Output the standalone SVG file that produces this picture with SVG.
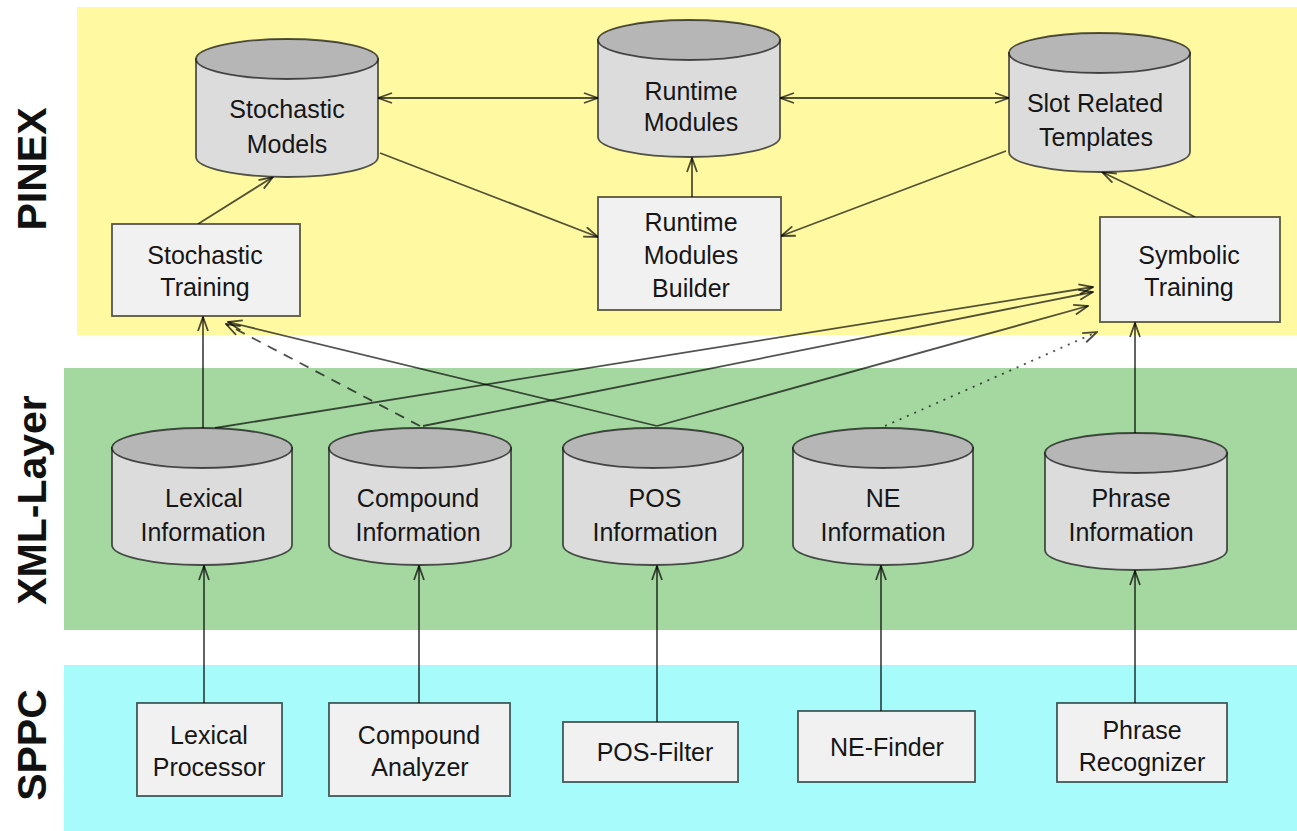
<svg xmlns="http://www.w3.org/2000/svg" width="1297" height="831" viewBox="0 0 1297 831">
  <style>
    .lbl { font-family: "Liberation Sans", Arial, sans-serif; font-size: 25px; fill: #161616; text-anchor: middle; }
    .layer { font-family: "Liberation Sans", Arial, sans-serif; font-size: 41px; font-weight: bold; fill: #111; text-anchor: middle; }
    .box { fill: #f1f1f1; stroke: #000; stroke-opacity: 0.65; stroke-width: 1.8; }
    .body { fill: #dcdcdc; stroke: #000; stroke-opacity: 0.65; stroke-width: 1.8; }
    .lid { fill: #b6b6b6; stroke: #000; stroke-opacity: 0.65; stroke-width: 1.8; }
    .edge { fill: none; stroke: #000; stroke-opacity: 0.68; stroke-width: 1.8; marker-end: url(#arrow); }
    .both { marker-start: url(#arrow); }
    .dash { stroke-dasharray: 10 8; }
    .dot { stroke-dasharray: 2 6; }
  </style>
  <defs>
    <marker id="arrow" viewBox="0 0 16 12" refX="15" refY="6" markerWidth="16" markerHeight="12" markerUnits="userSpaceOnUse" orient="auto-start-reverse">
      <path d="M1,1 L15,6 L1,11" fill="none" stroke="#000" stroke-opacity="0.7" stroke-width="1.8"/>
    </marker>
  </defs>

  <!-- layer bands -->
  <rect width="1297" height="831" fill="#ffffff"/>
  <rect x="77" y="7" width="1220" height="328" fill="#fffaa2"/>
  <rect x="64" y="368" width="1233" height="262" fill="#a4d8a0"/>
  <rect x="64" y="665" width="1233" height="166" fill="#a8fbfb"/>

  <text class="layer" transform="translate(46,169) rotate(-90)">PINEX</text>
  <text class="layer" transform="translate(46,500) rotate(-90)">XML-Layer</text>
  <text class="layer" transform="translate(46,745) rotate(-90)">SPPC</text>

  <!-- connectors -->
  <g id="connectors">
    <!-- PINEX -->
    <line class="edge both" x1="378" y1="98" x2="598" y2="98"/>
    <line class="edge both" x1="780" y1="98" x2="1009" y2="98"/>
    <line class="edge" x1="380" y1="153" x2="598" y2="237"/>
    <line class="edge" x1="1006" y1="151" x2="781" y2="236"/>
    <line class="edge" x1="692" y1="197" x2="692" y2="158"/>
    <line class="edge" x1="198" y1="224" x2="273" y2="177"/>
    <line class="edge" x1="1195" y1="217" x2="1102" y2="172"/>
    <!-- XML-Layer to PINEX -->
    <line class="edge" x1="203" y1="428" x2="203" y2="317"/>
    <line class="edge dash" x1="420" y1="426" x2="226" y2="324"/>
    <line class="edge" x1="657" y1="426" x2="228" y2="322"/>
    <line class="edge" x1="215" y1="428" x2="1093" y2="287"/>
    <line class="edge" x1="423" y1="426" x2="1093" y2="292"/>
    <line class="edge" x1="657" y1="426" x2="1088" y2="306"/>
    <line class="edge dot" x1="885" y1="426" x2="1097" y2="332"/>
    <line class="edge" x1="1135" y1="433" x2="1135" y2="323"/>
    <!-- SPPC to XML-Layer -->
    <line class="edge" x1="204" y1="703" x2="204" y2="566"/>
    <line class="edge" x1="419" y1="703" x2="419" y2="566"/>
    <line class="edge" x1="657" y1="722" x2="657" y2="566"/>
    <line class="edge" x1="881" y1="711" x2="881" y2="566"/>
    <line class="edge" x1="1135" y1="703" x2="1135" y2="571"/>
  </g>

  <!-- PINEX nodes -->
  <g id="stochastic-models">
    <path class="body" d="M196,59 V157 A91,20 0 0 0 378,157 V59 Z"/>
    <ellipse class="lid" cx="287" cy="59" rx="91" ry="20"/>
    <text class="lbl" x="287" y="118">Stochastic</text>
    <text class="lbl" x="287" y="153">Models</text>
  </g>
  <g id="runtime-modules">
    <path class="body" d="M598,40 V137 A91,20 0 0 0 780,137 V40 Z"/>
    <ellipse class="lid" cx="689" cy="40" rx="91" ry="20"/>
    <text class="lbl" x="691" y="100">Runtime</text>
    <text class="lbl" x="691" y="131">Modules</text>
  </g>
  <g id="slot-templates">
    <path class="body" d="M1009,53 V152 A90.5,20 0 0 0 1190,152 V53 Z"/>
    <ellipse class="lid" cx="1099.5" cy="53" rx="90.5" ry="20"/>
    <text class="lbl" x="1095" y="112">Slot Related</text>
    <text class="lbl" x="1096" y="146">Templates</text>
  </g>
  <g id="stochastic-training">
    <rect class="box" x="112" y="224" width="188" height="92"/>
    <text class="lbl" x="205" y="264">Stochastic</text>
    <text class="lbl" x="205" y="296">Training</text>
  </g>
  <g id="runtime-builder">
    <rect class="box" x="598" y="197" width="183" height="113"/>
    <text class="lbl" x="691" y="231">Runtime</text>
    <text class="lbl" x="691" y="264">Modules</text>
    <text class="lbl" x="691" y="297">Builder</text>
  </g>
  <g id="symbolic-training">
    <rect class="box" x="1100" y="217" width="180" height="105"/>
    <text class="lbl" x="1189" y="264">Symbolic</text>
    <text class="lbl" x="1189" y="296">Training</text>
  </g>

  <!-- XML-Layer nodes -->
  <g id="lexical-info">
    <path class="body" d="M112,448 V545 A90,20 0 0 0 292,545 V448 Z"/>
    <ellipse class="lid" cx="202" cy="448" rx="90" ry="20"/>
    <text class="lbl" x="204" y="507">Lexical</text>
    <text class="lbl" x="203" y="541">Information</text>
  </g>
  <g id="compound-info">
    <path class="body" d="M329,448 V545 A91,20 0 0 0 511,545 V448 Z"/>
    <ellipse class="lid" cx="420" cy="448" rx="91" ry="20"/>
    <text class="lbl" x="418" y="507">Compound</text>
    <text class="lbl" x="418" y="541">Information</text>
  </g>
  <g id="pos-info">
    <path class="body" d="M563,448 V545 A90,20 0 0 0 743,545 V448 Z"/>
    <ellipse class="lid" cx="653" cy="448" rx="90" ry="20"/>
    <text class="lbl" x="655" y="507">POS</text>
    <text class="lbl" x="655" y="541">Information</text>
  </g>
  <g id="ne-info">
    <path class="body" d="M793,448 V545 A90,20 0 0 0 973,545 V448 Z"/>
    <ellipse class="lid" cx="883" cy="448" rx="90" ry="20"/>
    <text class="lbl" x="883" y="507">NE</text>
    <text class="lbl" x="883" y="541">Information</text>
  </g>
  <g id="phrase-info">
    <path class="body" d="M1045,453 V550 A91,20 0 0 0 1227,550 V453 Z"/>
    <ellipse class="lid" cx="1136" cy="453" rx="91" ry="20"/>
    <text class="lbl" x="1131" y="507">Phrase</text>
    <text class="lbl" x="1131" y="541">Information</text>
  </g>

  <!-- SPPC nodes -->
  <g id="lexical-processor">
    <rect class="box" x="137" y="703" width="145" height="93"/>
    <text class="lbl" x="209" y="744">Lexical</text>
    <text class="lbl" x="209" y="776">Processor</text>
  </g>
  <g id="compound-analyzer">
    <rect class="box" x="329" y="703" width="181" height="93"/>
    <text class="lbl" x="419" y="744">Compound</text>
    <text class="lbl" x="420" y="776">Analyzer</text>
  </g>
  <g id="pos-filter">
    <rect class="box" x="563" y="722" width="175" height="60"/>
    <text class="lbl" x="655" y="761">POS-Filter</text>
  </g>
  <g id="ne-finder">
    <rect class="box" x="798" y="711" width="177" height="71"/>
    <text class="lbl" x="887" y="756">NE-Finder</text>
  </g>
  <g id="phrase-recognizer">
    <rect class="box" x="1057" y="703" width="170" height="79"/>
    <text class="lbl" x="1142" y="739">Phrase</text>
    <text class="lbl" x="1142" y="771">Recognizer</text>
  </g>
</svg>
